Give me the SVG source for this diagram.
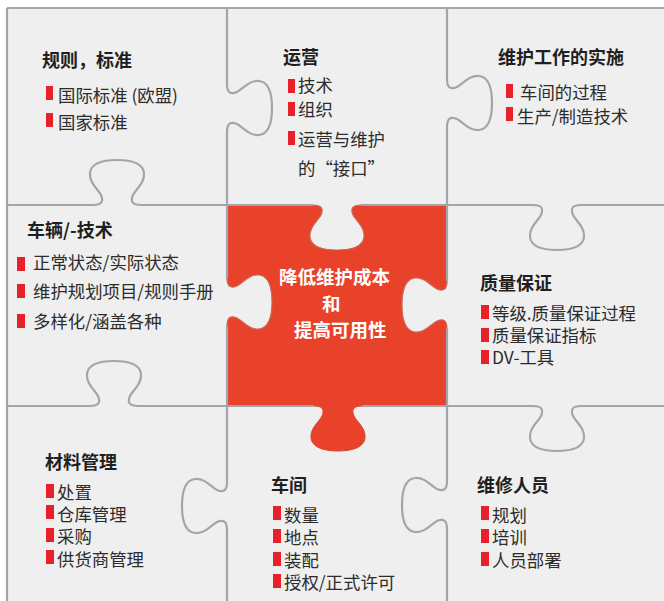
<svg xmlns="http://www.w3.org/2000/svg" xmlns:xlink="http://www.w3.org/1999/xlink" width="664" height="601" viewBox="0 0 664 601">
<style>
.ln{fill:none;stroke:#A2A6AC;stroke-width:2.2;stroke-linecap:butt}
.kn{fill:none;stroke:#A2A6AC;stroke-width:2.2}
.hole{fill:#EFEFEF;stroke:#C96A5A;stroke-width:1.2}
.tab{fill:#E8422B;stroke:#D8452E;stroke-width:1}
.t{font-family:"Noto Sans CJK SC","Noto Sans",sans-serif;font-weight:700;font-size:18px;fill:#1f1f1f}
.i{font-family:"Noto Sans CJK SC","Noto Sans",sans-serif;font-size:17.4px;fill:#2c2c2c}
.c{font-family:"Noto Sans CJK SC","Noto Sans",sans-serif;font-weight:700;font-size:18.5px;fill:#ffffff}
.b{fill:#E8202A}
</style>
<defs>
<path id="k" d="M-24,0 C-16,0 -13,-3 -16,-10 C-19,-16 -28,-22 -27,-32 C-26,-41 -15,-45 0,-45 C15,-45 26,-41 27,-32 C28,-22 19,-16 16,-10 C13,-3 16,0 24,0"/>
</defs>
<rect x="0" y="0" width="664" height="601" fill="#ffffff"/>
<rect x="7" y="8" width="657" height="593" fill="#EFEFEF"/>

<g id="center">
<rect x="227" y="205" width="220" height="201" fill="#E8422B"/>
<use href="#k" class="hole" transform="translate(227,302) rotate(90)"/>
<use href="#k" class="hole" transform="translate(447,305) rotate(-90)"/>
<use href="#k" class="hole" transform="translate(337,205) rotate(180)"/>
<use href="#k" class="tab" transform="translate(338,406) rotate(180)"/>
<text class="c" x="279" y="284">降低维护成本</text>
<text class="c" x="322" y="311">和</text>
<text class="c" x="294" y="337">提高可用性</text>
</g>

<g id="puzzle-lines">
<path class="ln" d="M7,8 H664 M7,8 V601"/>
<path class="ln" d="M227,8 V84 M227,132 V278 M227,326 V482 M227,530 V601"/>
<path class="ln" d="M447,8 V79 M447,127 V281 M447,329 V481 M447,529 V601"/>
<path class="ln" d="M7,205 H93 M141,205 H313 M361,205 H533 M581,205 H664"/>
<path class="ln" d="M7,406 H90 M138,406 H314 M362,406 H533 M581,406 H664"/>
<use href="#k" class="kn" transform="translate(227,108) rotate(90)"/>
<use href="#k" class="kn" transform="translate(227,506) rotate(-90)"/>
<use href="#k" class="kn" transform="translate(447,103) rotate(90)"/>
<use href="#k" class="kn" transform="translate(447,505) rotate(-90)"/>
<use href="#k" class="kn" transform="translate(117,205)"/>
<use href="#k" class="kn" transform="translate(557,205) rotate(180)"/>
<use href="#k" class="kn" transform="translate(114,406)"/>
<use href="#k" class="kn" transform="translate(557,406) rotate(180)"/>
</g>

<g id="rules">
<text class="t" x="42" y="67">规则，标准</text>
<rect class="b" x="46" y="86" width="7" height="14"/>
<text class="i" x="58" y="102">国际标准 (欧盟)</text>
<rect class="b" x="46" y="113" width="7" height="14"/>
<text class="i" x="58" y="129">国家标准</text>
</g>

<g id="operation">
<text class="t" x="283" y="64">运营</text>
<rect class="b" x="288" y="79" width="7" height="14"/>
<text class="i" x="298" y="92">技术</text>
<rect class="b" x="288" y="102" width="7" height="14"/>
<text class="i" x="298" y="116">组织</text>
<rect class="b" x="288" y="131" width="7" height="14"/>
<text class="i" x="298" y="146">运营与维护</text>
<text class="i" x="298" y="175">的“接口”</text>
</g>

<g id="execution">
<text class="t" x="498" y="64">维护工作的实施</text>
<rect class="b" x="506" y="84" width="7" height="14"/>
<text class="i" x="520" y="99">车间的过程</text>
<rect class="b" x="506" y="107" width="7" height="14"/>
<text class="i" x="517" y="123">生产/制造技术</text>
</g>

<g id="vehicle">
<text class="t" x="27" y="237">车辆/-技术</text>
<rect class="b" x="17" y="257" width="8" height="14"/>
<text class="i" x="33" y="269">正常状态/实际状态</text>
<rect class="b" x="17" y="284" width="8" height="14"/>
<text class="i" x="33" y="298">维护规划项目/规则手册</text>
<rect class="b" x="17" y="314" width="8" height="14"/>
<text class="i" x="33" y="328">多样化/涵盖各种</text>
</g>

<g id="quality">
<text class="t" x="480" y="290">质量保证</text>
<rect class="b" x="481" y="305" width="8" height="14"/>
<text class="i" x="492" y="320">等级.质量保证过程</text>
<rect class="b" x="481" y="328" width="8" height="14"/>
<text class="i" x="492" y="342">质量保证指标</text>
<rect class="b" x="481" y="350" width="8" height="14"/>
<text class="i" x="492" y="364">DV-工具</text>
</g>

<g id="material">
<text class="t" x="45" y="469">材料管理</text>
<rect class="b" x="46" y="484" width="8" height="14"/>
<text class="i" x="57" y="499">处置</text>
<rect class="b" x="46" y="505" width="8" height="14"/>
<text class="i" x="57" y="521">仓库管理</text>
<rect class="b" x="46" y="528" width="8" height="14"/>
<text class="i" x="57" y="543">采购</text>
<rect class="b" x="46" y="550" width="8" height="14"/>
<text class="i" x="57" y="566">供货商管理</text>
</g>

<g id="workshop">
<text class="t" x="271" y="492">车间</text>
<rect class="b" x="273" y="506" width="8" height="14"/>
<text class="i" x="284" y="522">数量</text>
<rect class="b" x="273" y="529" width="8" height="14"/>
<text class="i" x="284" y="544">地点</text>
<rect class="b" x="273" y="552" width="8" height="14"/>
<text class="i" x="284" y="567">装配</text>
<rect class="b" x="273" y="574" width="8" height="14"/>
<text class="i" x="284" y="589">授权/正式许可</text>
</g>

<g id="staff">
<text class="t" x="477" y="492">维修人员</text>
<rect class="b" x="481" y="506" width="8" height="14"/>
<text class="i" x="492" y="522">规划</text>
<rect class="b" x="481" y="529" width="8" height="14"/>
<text class="i" x="492" y="544">培训</text>
<rect class="b" x="481" y="552" width="8" height="14"/>
<text class="i" x="492" y="567">人员部署</text>
</g>
</svg>
